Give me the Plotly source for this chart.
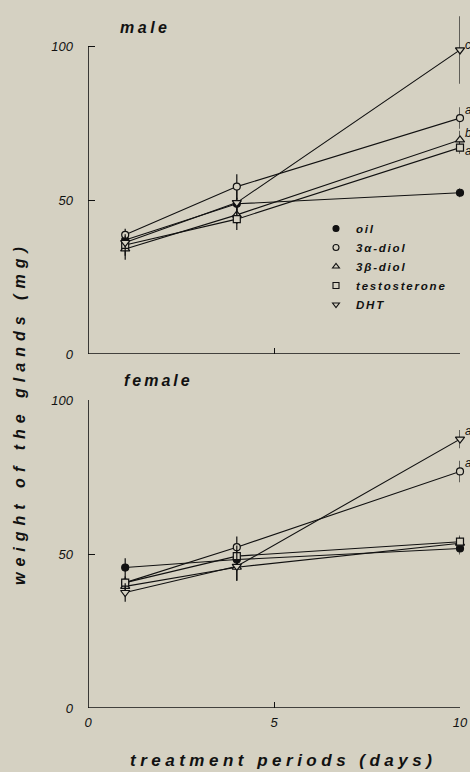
import plotly.graph_objects as go
from plotly.subplots import make_subplots

# ---------------- data ----------------
days = [1, 4, 10]
series_names = ["oil", "3α-diol", "3β-diol", "testosterone", "DHT"]

# male (top panel) — mean gland weight (mg)
male_oil = [37.1, 48.9, 52.5]
male_3a = [38.8, 54.5, 76.8]
male_3b = [34.2, 45.3, 69.7]
male_testo = [35.5, 43.9, 67.2]
male_dht = [36.3, 49.3, 99.0]
male_oil_err = [2.0, 2.0, 1.5]
male_3a_err = [2.0, 4.0, 3.5]
male_3b_err = [3.5, 3.0, 3.0]
male_testo_err = [3.5, 3.5, 2.0]
male_dht_err = [2.0, 4.0, 11.0]
male_letters = ["", "a", "b", "a", "c"]

# female (bottom panel)
female_oil = [45.6, 48.2, 51.8]
female_3a = [40.7, 52.2, 76.8]
female_3b = [39.5, 45.7, 53.5]
female_testo = [40.7, 49.3, 54.0]
female_dht = [37.5, 46.0, 87.3]
female_oil_err = [3.0, 2.0, 2.0]
female_3a_err = [2.0, 3.5, 3.5]
female_3b_err = [2.0, 4.5, 2.0]
female_testo_err = [2.0, 3.5, 2.0]
female_dht_err = [3.0, 4.5, 3.0]
female_letters = ["", "a", "", "", "a"]

y_ticks = [0, 50, 100]
x_ticks = [0, 5, 10]
x_tick_labels = ["0", "5", "10"]

# ---------------- style / page geometry ----------------
BG = "#d5d1c2"
INK = "#111111"
FONT = "Liberation Sans"
W, H = 470, 772
letter_shift_male = [0, 8, 7, -3, 5]     # vertical nudges (px) for the letters
letter_shift_female = [0, 8, 0, 0, 8]


def py(p):            # page pixel (from top) -> paper y
    return 1 - p / H


def px(p):            # page pixel (from left) -> paper x (plot area 88..460)
    return (p - 88) / 372


symbols = ["circle", "circle", "triangle-up", "square", "triangle-down"]
fills = [INK, BG, BG, BG, BG]
sizes = [7, 7, 8, 7, 8]

male_vals = [male_oil, male_3a, male_3b, male_testo, male_dht]
male_errs = [male_oil_err, male_3a_err, male_3b_err, male_testo_err, male_dht_err]
female_vals = [female_oil, female_3a, female_3b, female_testo, female_dht]
female_errs = [female_oil_err, female_3a_err, female_3b_err, female_testo_err, female_dht_err]

fig = make_subplots(rows=2, cols=1)

for row, vals, errs in [(1, male_vals, male_errs), (2, female_vals, female_errs)]:
    for i, name in enumerate(series_names):
        fig.add_trace(go.Scatter(
            x=days, y=vals[i], mode="lines+markers", name=name, showlegend=False,
            line=dict(color=INK, width=1.1),
            marker=dict(symbol=symbols[i], size=sizes[i], color=fills[i],
                        line=dict(color=INK, width=1.2)),
            error_y=dict(type="data", array=errs[i], width=0, thickness=1.2, color=INK),
            cliponaxis=False,
        ), row=row, col=1)

# legend-only entries (marker only)
for i, name in enumerate(series_names):
    fig.add_trace(go.Scatter(
        x=[None], y=[None], mode="markers",
        name='<span style="letter-spacing:1.8px">%s</span>' % name, showlegend=True,
        marker=dict(symbol=symbols[i], size=6, color=fills[i],
                    line=dict(color=INK, width=1.1)),
    ), row=1, col=1)

# significance letters
for row, vals, letters, shifts in [(1, male_vals, male_letters, letter_shift_male),
                                   (2, female_vals, female_letters, letter_shift_female)]:
    for i, lt in enumerate(letters):
        if lt:
            fig.add_annotation(x=days[-1], y=vals[i][-1], text=lt, showarrow=False,
                               xref="x" if row == 1 else "x2", yref="y" if row == 1 else "y2",
                               xanchor="left", yanchor="middle", xshift=3, yshift=shifts[i],
                               font=dict(family=FONT, size=12, color=INK, style="italic"))

tickfont = dict(family=FONT, size=13, color=INK, style="italic")
axis_common = dict(showgrid=False, zeroline=False, showline=False, automargin=False,
                   ticks="inside", tickcolor=INK, tickwidth=1.3)

fig.update_xaxes(range=[0, 10], tickvals=x_ticks, ticktext=x_tick_labels, ticklen=6,
                 tickfont=tickfont, ticklabelstandoff=5, **axis_common)
fig.update_xaxes(showticklabels=False, row=1, col=1)
fig.update_yaxes(tickvals=y_ticks, ticklen=7, tickfont=tickfont, ticklabelstandoff=14,
                 **axis_common)

fig.update_layout(
    yaxis=dict(range=[0, 112], domain=[py(354), py(10)]),
    yaxis2=dict(range=[0, 100], domain=[py(708), py(400)]),
    xaxis=dict(domain=[0, 1]),
    xaxis2=dict(domain=[0, 1]),
)

# axis lines (stop at 100)
for xr, yr in [("x", "y"), ("x2", "y2")]:
    fig.add_shape(type="line", xref=xr, yref=yr, x0=0, x1=0, y0=0, y1=100,
                  line=dict(color=INK, width=1.6))
    fig.add_shape(type="line", xref=xr, yref=yr, x0=0, x1=10, y0=0, y1=0,
                  line=dict(color=INK, width=1.6))

title_font = dict(family=FONT, size=16, color=INK, style="italic", weight="bold")
fig.add_annotation(text='<span style="letter-spacing:3.5px">male</span>', xref="paper", yref="paper",
                   x=px(145), y=py(27), xanchor="center", yanchor="middle",
                   showarrow=False, font=title_font)
fig.add_annotation(text='<span style="letter-spacing:3px">female</span>', xref="paper", yref="paper",
                   x=px(158), y=py(380), xanchor="center", yanchor="middle",
                   showarrow=False, font=title_font)
fig.add_annotation(text='<span style="letter-spacing:6px">weight of the glands (mg)</span>',
                   xref="paper", yref="paper", x=px(19), y=py(413),
                   xanchor="center", yanchor="middle",
                   textangle=-90, showarrow=False,
                   font=dict(family=FONT, size=16, color=INK, style="italic", weight="bold"))
fig.add_annotation(text='<span style="letter-spacing:4.5px">treatment periods (days)</span>',
                   xref="paper", yref="paper", x=px(283), y=py(760),
                   xanchor="center", yanchor="middle", showarrow=False,
                   font=dict(family=FONT, size=17, color=INK, style="italic", weight="bold"))

fig.update_layout(
    width=W, height=H,
    margin=dict(l=88, r=10, t=0, b=0, autoexpand=False),
    paper_bgcolor=BG, plot_bgcolor=BG,
    showlegend=True,
    legend=dict(x=px(316), y=py(214), xanchor="left", yanchor="top",
                bgcolor="rgba(0,0,0,0)", borderwidth=0, tracegroupgap=0,
                itemwidth=30,
                font=dict(family=FONT, size=11.5, color=INK, style="italic", weight="bold")),
)

fig.write_html("out.html", config={"displayModeBar": False},
               post_script="document.body.style.margin='0';"
                           "document.body.style.background='%s';" % BG)
